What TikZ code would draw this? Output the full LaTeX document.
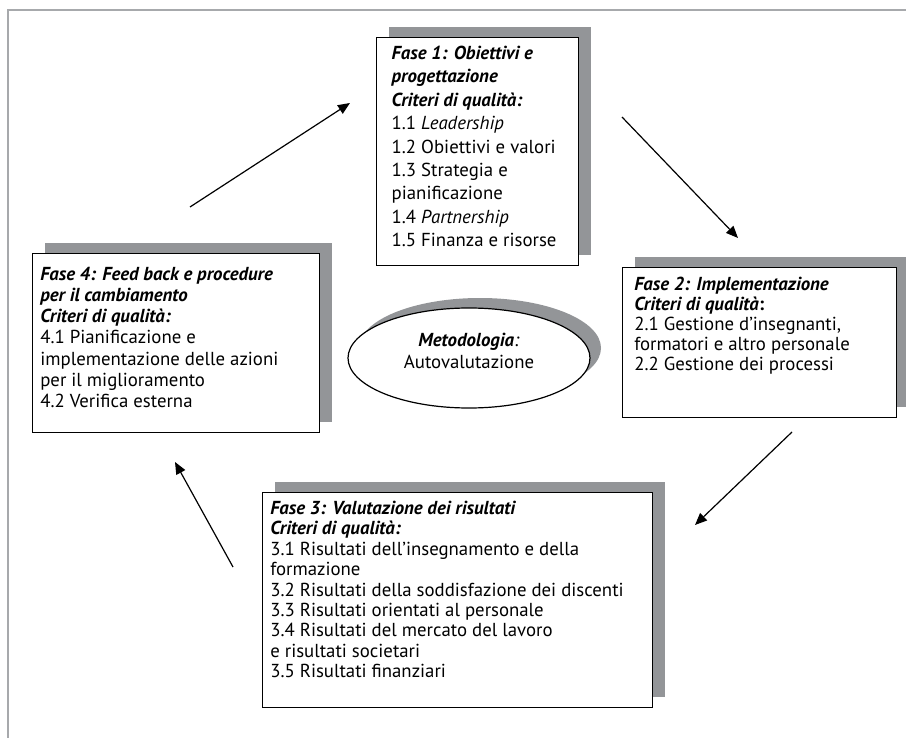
\documentclass[tikz,border=0pt]{standalone}
\usepackage{fontspec}
\setmainfont{PT Sans}
\usetikzlibrary{arrows.meta,shadows,shapes.geometric}
\definecolor{shadowgray}{RGB}{147,149,152}
\definecolor{framegray}{RGB}{167,169,172}
\newcommand{\fasebox}[3]{\parbox[t][#2][t]{#1}{\raggedright #3}}
\newcommand{\titolo}[1]{\textbf{\textit{#1}}}
\tikzset{
	fase/.style={draw, line width=0.7pt, fill=white, anchor=north west,
		drop shadow={fill=shadowgray, opacity=1, shadow xshift=6pt, shadow yshift=5.5pt},
		font=\fontsize{9.4}{10.3}\selectfont},
	metodo/.style={ellipse, draw, line width=0.6pt, fill=white, inner sep=0pt,
		minimum width=121pt, minimum height=50pt,
		drop shadow={fill=shadowgray, opacity=1, shadow xshift=5.5pt, shadow yshift=5pt}},
	freccia/.style={line width=0.6pt, -{Triangle[length=6pt,width=5pt]}}
}

\begin{document}
\begin{tikzpicture}[x=0.5pt,y=-0.5pt]
		%%%%% START %%%%%
		\useasboundingbox (0,0) rectangle (906,738);
		
		\draw[framegray, line width=1pt] (8,738) -- (8,10) -- (906,10);
		
		% fasi
		\node[fase, inner xsep=7.5pt, inner ysep=4.2pt, font=\fontsize{9.4}{11.7}\selectfont] (fase1) at (376,37) {\fasebox{86pt}{105.6pt}{%
				\titolo{Fase 1: Obiettivi e\\ progettazione\\ Criteri di qualità:}\\
				1.1 \textit{Leadership}\\
				1.2 Obiettivi e valori\\
				1.3 Strategia e\\
				pianificazione\\
				1.4 \textit{Partnership}\\
				1.5 Finanza e risorse}};
		
		\node[fase, inner xsep=5.8pt, inner ysep=4.7pt, font=\fontsize{9.4}{10}\selectfont] (fase2) at (622,267) {\fasebox{125.4pt}{65.6pt}{%
				\titolo{Fase 2: Implementazione}\\
				\titolo{Criteri di qualità}\textbf{:}\\
				2.1 Gestione d’insegnanti,\\
				formatori e altro personale\\
				2.2 Gestione dei processi}};
		
		\node[fase, inner xsep=3.8pt, inner ysep=4.2pt, font=\fontsize{9.4}{10.2}\selectfont] (fase3) at (262,492) {\fasebox{187.4pt}{99.1pt}{%
				\titolo{Fase 3: Valutazione dei risultati\\ Criteri di qualità:}\\
				3.1 Risultati dell’insegnamento e della\\
				formazione\\
				3.2 Risultati della soddisfazione dei discenti\\
				3.3 Risultati orientati al personale\\
				3.4 Risultati del mercato del lavoro\\
				e risultati societari\\
				3.5 Risultati finanziari}};
		
		\node[fase, inner xsep=3.8pt, inner ysep=6.7pt, font=\fontsize{9.4}{10.6}\selectfont] (fase4) at (32,253) {\fasebox{135.9pt}{76.1pt}{%
				\titolo{Fase 4: Feed back e procedure\\ per il cambiamento\\ Criteri di qualità:}\\
				4.1 Pianificazione e\\
				implementazione delle azioni\\
				per il miglioramento\\
				4.2 Verifica esterna}};
		
		% metodologia
		\node[metodo] (metodo) at (469,358) {};
		\node[font=\fontsize{9.4}{11}\selectfont, align=center] (metodotesto) at (469,351) {\titolo{Metodologia}\textit{:}\\ Autovalutazione};
		
		% frecce
		\coordinate (f4f1a) at (190,207);
		\coordinate (f4f1b) at (350,103);
		\coordinate (f1f2a) at (622,117);
		\coordinate (f1f2b) at (738,238);
		\coordinate (f2f3a) at (792,432);
		\coordinate (f2f3b) at (695,525);
		\coordinate (f3f4a) at (233,567);
		\coordinate (f3f4b) at (175,462);
		\draw[freccia] (f4f1a) -- (f4f1b);
		\draw[freccia] (f1f2a) -- (f1f2b);
		\draw[freccia] (f2f3a) -- (f2f3b);
		\draw[freccia] (f3f4a) -- (f3f4b);
		
		%%%%% END %%%%%
	\end{tikzpicture}
\end{document}
